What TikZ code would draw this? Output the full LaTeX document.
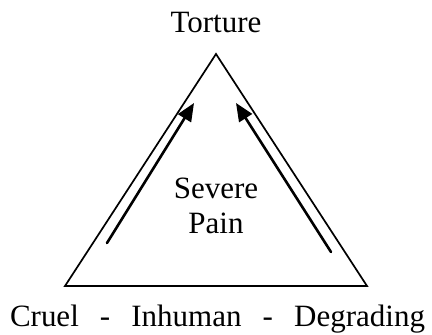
\documentclass[tikz,border=0pt]{standalone}
\usepackage{fontspec}
\setmainfont{Liberation Serif}
\usetikzlibrary{arrows.meta}
\tikzset{
  lbl/.style={inner sep=0pt,font=\fontsize{31}{35}\selectfont},
  push/.style={-{Triangle[length=18pt,width=15pt]},line width=2.6pt}
}
\begin{document}
\begin{tikzpicture}[x=1pt,y=1pt,line join=miter,line cap=round]
	%========================
	\useasboundingbox (0,0) rectangle (432,335);
	\coordinate (top) at (216,281);
	\coordinate (bl) at (65,49);
	\coordinate (br) at (367,49);
	\draw[line width=1.7pt] (top) -- (bl) -- (br) -- cycle;
	\node[lbl,anchor=base] (torture) at (216,302) {Torture};
	\node[lbl,align=center] (pain) at (216,129) {Severe\\Pain};
	\node[lbl,anchor=base,text width=415pt,align=justify] (kinds) at (217.5,8)
		{Cruel\hfill-\hfill Inhuman\hfill-\hfill Degrading};
	\coordinate (la) at (107,92);
	\coordinate (lb) at (194,232);
	\coordinate (ra) at (331,83);
	\coordinate (rb) at (236,232);
	\draw[push] (la) -- (lb);
	\draw[push] (ra) -- (rb);
	%========================
\end{tikzpicture}
\end{document}
